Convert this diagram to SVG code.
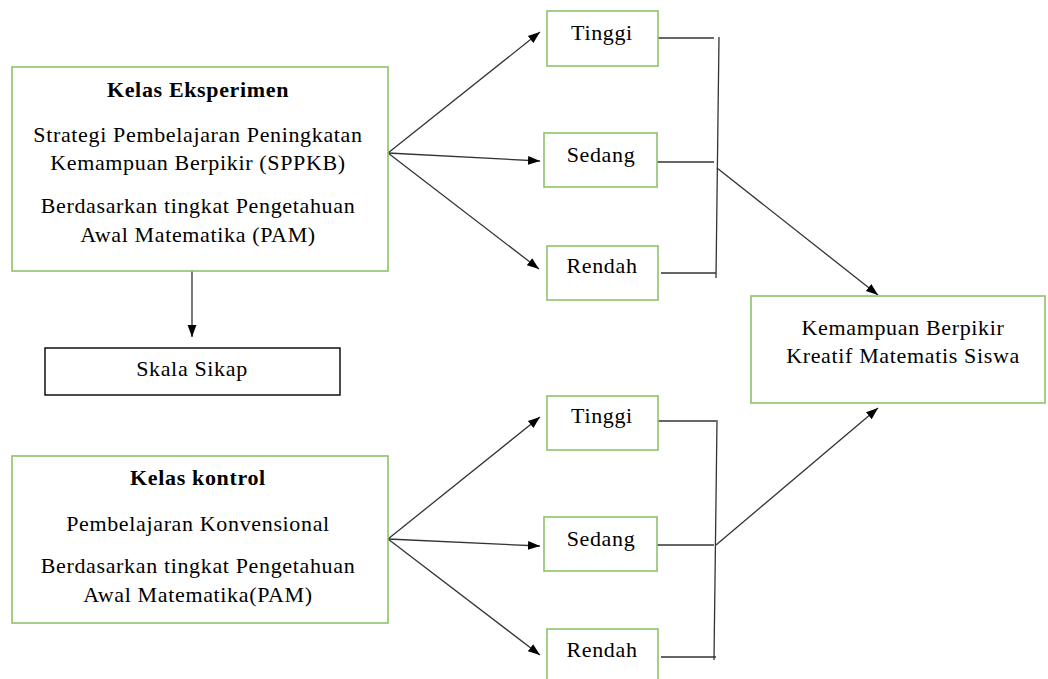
<svg xmlns="http://www.w3.org/2000/svg" width="1048" height="679" viewBox="0 0 1048 679">
<style>
.box{fill:#fff;stroke:#8cc36a;stroke-width:1.6}
.bbox{fill:#fff;stroke:#000;stroke-width:1.4}
.t text{font-size:22px;letter-spacing:0.65px;fill:#000;text-anchor:middle}
.b{font-weight:bold}
.ln{stroke:#333;stroke-width:1.3;fill:none}
</style>
<defs>
<marker id="ah" viewBox="0 0 10 10" refX="10" refY="5" markerWidth="12" markerHeight="12" markerUnits="userSpaceOnUse" orient="auto">
<path d="M0,1.3 L10,5 L0,8.7 z" fill="#000"/>
</marker>
</defs>
<rect width="1048" height="679" fill="#fff"/>
<g id="connectors">
<line class="ln" x1="388" y1="153" x2="540" y2="32" marker-end="url(#ah)"/>
<line class="ln" x1="388" y1="153" x2="540" y2="161" marker-end="url(#ah)"/>
<line class="ln" x1="388" y1="153" x2="539" y2="269" marker-end="url(#ah)"/>
<line class="ln" x1="192" y1="271" x2="192" y2="337" marker-end="url(#ah)"/>
<line class="ln" x1="658" y1="38" x2="714" y2="38"/>
<line class="ln" x1="657" y1="162" x2="714" y2="162"/>
<line class="ln" x1="661" y1="273" x2="716" y2="273"/>
<line class="ln" x1="719" y1="37" x2="716" y2="278"/>
<line class="ln" x1="717" y1="168" x2="878" y2="295" marker-end="url(#ah)"/>
<line class="ln" x1="388" y1="539" x2="540" y2="417" marker-end="url(#ah)"/>
<line class="ln" x1="388" y1="539" x2="540" y2="546" marker-end="url(#ah)"/>
<line class="ln" x1="388" y1="539" x2="540" y2="655" marker-end="url(#ah)"/>
<line class="ln" x1="658" y1="421" x2="716" y2="421"/>
<line class="ln" x1="657" y1="545" x2="714" y2="545"/>
<line class="ln" x1="661" y1="657" x2="716" y2="657"/>
<line class="ln" x1="717" y1="420" x2="714" y2="660"/>
<line class="ln" x1="716" y1="545" x2="878" y2="408" marker-end="url(#ah)"/>
</g>
<g class="t" font-family="Liberation Serif, serif">
<g id="kelas-eksperimen">
<rect class="box" x="12" y="67" width="376" height="204"/>
<text x="198" y="97" class="b">Kelas Eksperimen</text>
<text x="198" y="142">Strategi Pembelajaran Peningkatan</text>
<text x="198" y="170">Kemampuan Berpikir (SPPKB)</text>
<text x="198" y="213">Berdasarkan tingkat Pengetahuan</text>
<text x="198" y="242">Awal Matematika (PAM)</text>
</g>
<g id="skala-sikap">
<rect class="bbox" x="45" y="348" width="295" height="47"/>
<text x="192" y="376">Skala Sikap</text>
</g>
<g id="kelas-kontrol">
<rect class="box" x="12" y="456" width="376" height="167"/>
<text x="198" y="485" class="b">Kelas kontrol</text>
<text x="198" y="531">Pembelajaran Konvensional</text>
<text x="198" y="573">Berdasarkan tingkat Pengetahuan</text>
<text x="198" y="602">Awal Matematika(PAM)</text>
</g>
<g id="tinggi-1">
<rect class="box" x="547" y="11" width="111" height="55"/>
<text x="602" y="40">Tinggi</text>
</g>
<g id="sedang-1">
<rect class="box" x="544" y="133" width="113" height="54"/>
<text x="601" y="162">Sedang</text>
</g>
<g id="rendah-1">
<rect class="box" x="547" y="246" width="111" height="54"/>
<text x="602" y="273">Rendah</text>
</g>
<g id="tinggi-2">
<rect class="box" x="547" y="396" width="111" height="54"/>
<text x="602" y="423">Tinggi</text>
</g>
<g id="sedang-2">
<rect class="box" x="544" y="517" width="113" height="54"/>
<text x="601" y="546">Sedang</text>
</g>
<g id="rendah-2">
<rect class="box" x="547" y="629" width="111" height="60"/>
<text x="602" y="657">Rendah</text>
</g>
<g id="kemampuan">
<rect class="box" x="751" y="296" width="294" height="107"/>
<text x="903" y="335">Kemampuan Berpikir</text>
<text x="903" y="363">Kreatif Matematis Siswa</text>
</g>
</g>
</svg>
